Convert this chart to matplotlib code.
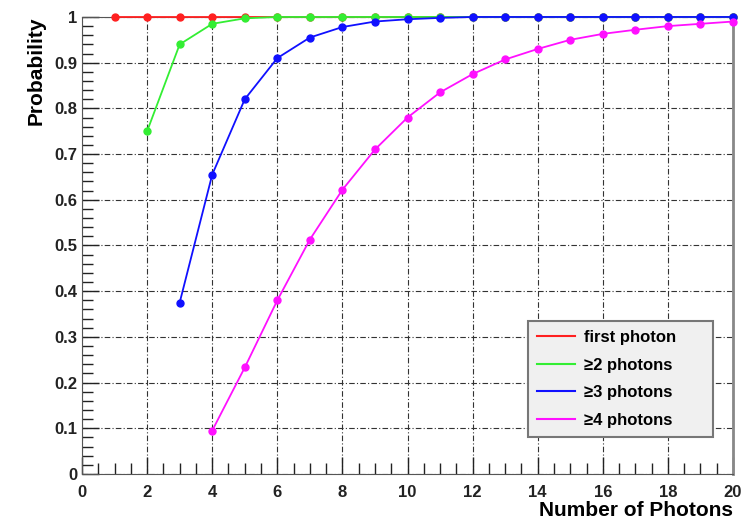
import numpy as np
import matplotlib
matplotlib.use("Agg")
import matplotlib.pyplot as plt
from matplotlib.ticker import MultipleLocator

plt.rcParams["font.family"] = ["Liberation Sans", "DejaVu Sans"]
plt.rcParams["font.weight"] = "bold"

# photon counts and detection probabilities
n_first = list(range(1, 21))
p_first = [1.0] * 20

n_ge2 = list(range(2, 21))
p_ge2 = [0.75, 0.94, 0.985, 0.997, 1.0, 1.0, 1.0, 1.0, 1.0, 1.0,
         1.0, 1.0, 1.0, 1.0, 1.0, 1.0, 1.0, 1.0, 1.0]

n_ge3 = list(range(3, 21))
p_ge3 = [0.375, 0.655, 0.82, 0.91, 0.955, 0.978, 0.99, 0.995, 0.998, 1.0,
         1.0, 1.0, 1.0, 1.0, 1.0, 1.0, 1.0, 1.0]

n_ge4 = list(range(4, 21))
p_ge4 = [0.095, 0.233, 0.38, 0.513, 0.622, 0.71, 0.78, 0.835, 0.875, 0.907,
         0.93, 0.95, 0.963, 0.972, 0.98, 0.985, 0.99]

series = [
    (n_first, p_first, "#ff2020", "first photon"),
    (n_ge2, p_ge2, "#33ee33", "\u22652 photons"),
    (n_ge3, p_ge3, "#1010ff", "\u22653 photons"),
    (n_ge4, p_ge4, "#ff10ff", "\u22654 photons"),
]

fig = plt.figure(figsize=(7.47, 5.22), dpi=100)
ax = fig.add_axes([0.1098, 0.092, 0.8715, 0.8755])

handles = []
for xs, ys, col, lab in series:
    ax.plot(xs, ys, "-o", color=col, lw=1.3, ms=5, clip_on=False, zorder=3)
    h, = ax.plot([], [], "-", color=col, lw=1.5, label=lab)
    handles.append(h)

ax.set_xlim(0, 20)
ax.set_ylim(0, 1)
ax.xaxis.set_major_locator(MultipleLocator(2))
ax.xaxis.set_minor_locator(MultipleLocator(0.5))
ax.yaxis.set_major_locator(MultipleLocator(0.1))
ax.yaxis.set_minor_locator(MultipleLocator(0.02))
ax.set_yticks(np.arange(0, 1.01, 0.1))
ax.set_yticklabels(["0", "0.1", "0.2", "0.3", "0.4", "0.5", "0.6", "0.7", "0.8", "0.9", "1"])

ax.tick_params(which="both", direction="in", top=False, right=False, labelsize=12, colors="#222222")
ax.tick_params(which="major", length=12, width=1)
ax.tick_params(which="minor", length=8, width=1)
ax.tick_params(axis="x", pad=8)

ax.grid(True, which="major", color="#333333", lw=0.8, ls=(0, (5, 2, 1, 2)))
ax.set_axisbelow(True)

for s in ax.spines.values():
    s.set_color("#555555")
ax.spines["right"].set_linewidth(2)
ax.spines["right"].set_color("#888888")

ax.set_xlabel("Number of Photons", fontsize=15, fontweight="bold", loc="right", labelpad=1)
ax.set_ylabel("Probability", fontsize=15, fontweight="bold", loc="top", labelpad=6)

# legend box stretched to the width used in the original
leg = ax.legend(handles=handles, loc="lower left", bbox_to_anchor=(0.685, 0.081, 0.284, 0.256),
                mode="expand", fontsize=12, frameon=True, fancybox=False, handlelength=2.3,
                borderpad=0.55, labelspacing=0.75, handletextpad=0.5, borderaxespad=0)
leg.get_frame().set_facecolor("#f0f0f0")
leg.get_frame().set_edgecolor("#777777")
leg.get_frame().set_alpha(1)
leg.get_frame().set_linewidth(1.5)

plt.savefig("out.png", dpi=100)
